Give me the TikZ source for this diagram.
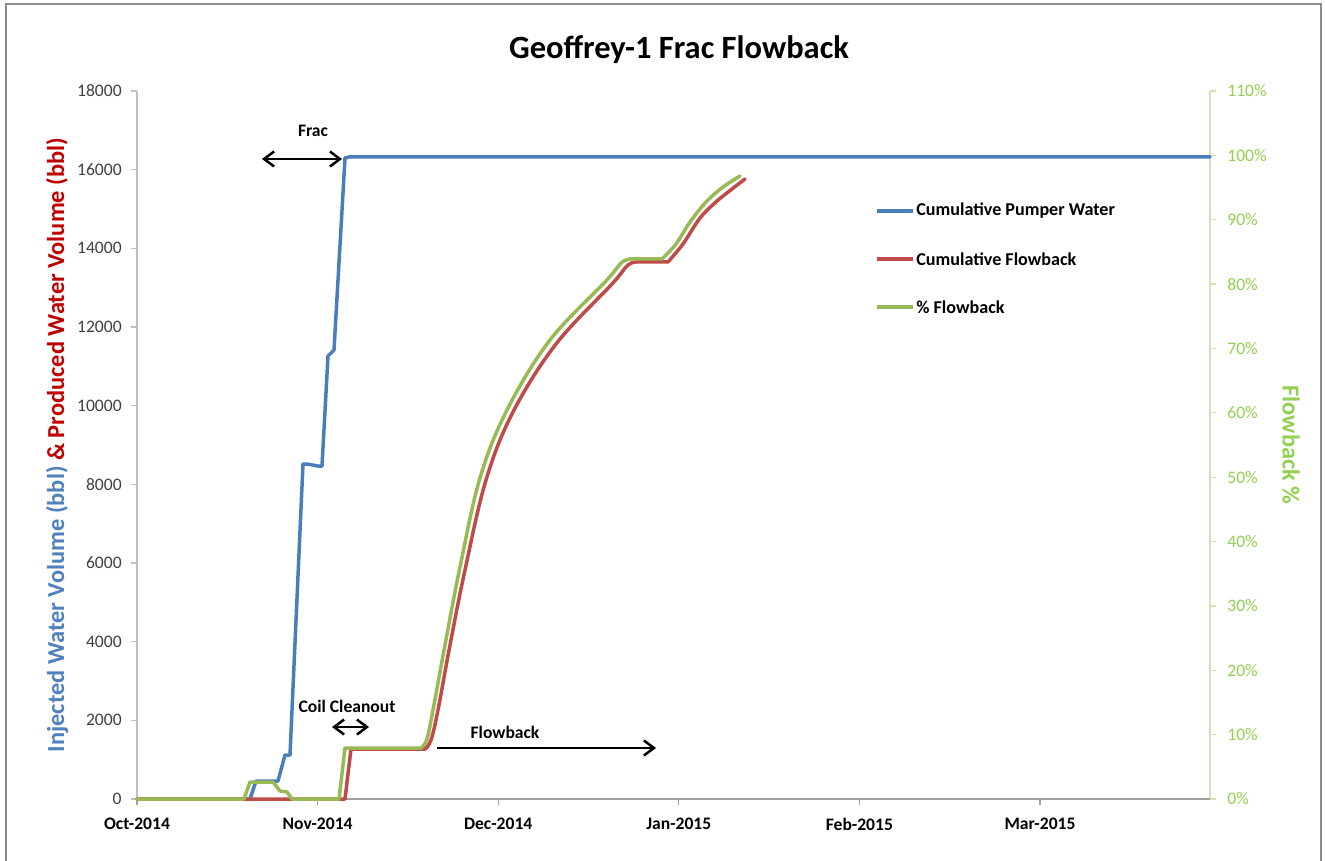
\documentclass[tikz,border=0pt]{standalone}
\usepackage{fontspec}
\setmainfont{Carlito}
\usetikzlibrary{arrows.meta}
\definecolor{cblue}{HTML}{4A7EBB}
\definecolor{cred}{HTML}{BE4B48}
\definecolor{cgreen}{HTML}{98B954}
\definecolor{lblue}{HTML}{4F81BD}
\definecolor{lred}{HTML}{C00000}
\definecolor{lgreen}{HTML}{92D050}
\definecolor{axleft}{HTML}{BFBFBF}
\definecolor{axbottom}{HTML}{A0A0A0}
\definecolor{axright}{HTML}{D3E1B5}
\definecolor{framegray}{HTML}{8C8C8C}
\definecolor{ticktext}{HTML}{404040}
\tikzset{
  series/.style={line width=0.07cm, line join=round, line cap=round},
  annot/.style={line width=0.05cm, black},
  annotarrow/.style={annot, -{Straight Barb[length=0.2cm, width=0.3cm]}},
  annotboth/.style={annot, {Straight Barb[length=0.2cm, width=0.3cm]}-{Straight Barb[length=0.2cm, width=0.3cm]}},
  lbl/.style={font=\bfseries\fontsize{10}{12}\selectfont, inner sep=0pt},
  legtext/.style={font=\bfseries\fontsize{10.3}{12}\selectfont, anchor=west, inner sep=0pt},
  ltick/.style={font=\fontsize{10}{12}\selectfont, text=ticktext, anchor=east, inner sep=0pt},
  rtick/.style={font=\fontsize{10}{12}\selectfont, text=lgreen, anchor=west, inner sep=0pt},
  xtick/.style={font=\bfseries\fontsize{10}{12}\selectfont, anchor=center, inner sep=0pt},
  axtitle/.style={font=\bfseries\fontsize{13.9}{16}\selectfont, inner sep=0pt}
}
\begin{document}
\begin{tikzpicture}[x=0.02cm, y=-0.02cm]
\useasboundingbox (0,0) rectangle (1325,861);
% outer frame
\draw[framegray, line width=0.04cm] (6,861) -- (6,4) -- (1321,4) -- (1321,861);
% title
\node[font=\bfseries\fontsize{18.5}{22}\selectfont, inner sep=0pt] (title) at (679,50) {Geoffrey-1 Frac Flowback};
% axes
\draw[axleft, line width=0.025cm] (137,91) -- (137,799);
\draw[axright, line width=0.025cm] (1210,91) -- (1210,799);
\foreach \k in {0,...,9} {
  \pgfmathsetmacro{\yy}{799-\k*78.6667}
  \pgfmathtruncatemacro{\vv}{\k*2}
  \draw[axleft, line width=0.025cm] (131,\yy) -- (137,\yy);
  \node[ltick] (lt\k) at (122,\yy) {\ifnum\vv=0 0\else\vv000\fi};
}
\foreach \p in {0,10,...,110} {
  \pgfmathsetmacro{\yy}{799-\p*6.43636}
  \draw[axright, line width=0.025cm] (1210,\yy) -- (1216,\yy);
  \node[rtick] (rt\p) at (1227,\yy) {\p\%};
}
\draw[axbottom, line width=0.025cm] (137,799) -- (1210,799);
\foreach \lab [count=\i from 0] in {Oct-2014,Nov-2014,Dec-2014,Jan-2015,Feb-2015,Mar-2015} {
  \pgfmathsetmacro{\xx}{137+\i*180.6}
  \draw[axbottom, line width=0.025cm] (\xx,799) -- (\xx,805);
  \node[xtick] (xt\i) at (\xx,824) {\lab};
}
% axis titles
\node[axtitle, rotate=90] (ltitle) at (57,445) {\textcolor{lblue}{Injected Water Volume (bbl)} \textcolor{lred}{\& Produced Water Volume (bbl)}};
\node[axtitle, rotate=-90, text=lgreen] (rtitle) at (1291,445) {Flowback \%};
% series: cumulative pumper water
\draw[series, cblue] (137,799) -- (250,799) -- (256,781) -- (278,781) -- (285,755) -- (290,755)
  -- (303,464) -- (307,464) -- (318,466) -- (322,466) -- (328,356) -- (334,350) -- (345,158) -- (349,157) -- (1210,157);
% cumulative flowback
\draw[series, cred] (137,799) -- (345,799) -- (351,749) -- (425,749)
  -- plot[smooth, tension=0.6] coordinates {(425,749) (431,740) (438,710) (450,645) (465,570) (486,480) (513,412) (556,344) (612,284) (628,265) (638,262)}
  -- (668,262)
  -- plot[smooth, tension=0.5] coordinates {(668,262) (683,244) (700,218) (717,201) (732,189) (745,179)};
% % flowback
\draw[series, cgreen] (137,799) -- (244,799) -- (250,782) -- (273,782) -- (280,791) -- (287,792) -- (292,799)
  -- (339,799) -- (345,748) -- (421,748)
  -- plot[smooth, tension=0.6] coordinates {(421,748) (427,739) (433,710) (445,645) (460,567) (480,478) (507,410) (550,340) (606,281) (621,263) (630,259)}
  -- (662,259)
  -- plot[smooth, tension=0.5] coordinates {(662,259) (676,244) (690,222) (706,202) (723,187) (740,176)};
% legend
\draw[series, cblue, line cap=butt] (877,211) -- (913,211);
\node[legtext] (leg1) at (916,211) {Cumulative Pumper Water};
\draw[series, cred, line cap=butt] (877,259) -- (913,259);
\node[legtext] (leg2) at (916,259) {Cumulative Flowback};
\draw[series, cgreen, line cap=butt] (877,307) -- (913,307);
\node[legtext] (leg3) at (916,307) {\% Flowback};
% annotations
\node[lbl] (frac) at (313,131) {Frac};
\coordinate (fracL) at (262,159);
\coordinate (fracR) at (342,159);
\draw[annotboth] (fracL) -- (fracR);
\node[lbl] (coil) at (347,706) {Coil Cleanout};
\coordinate (coilL) at (332,727);
\coordinate (coilR) at (369,727);
\draw[annotboth] (coilL) -- (coilR);
\node[lbl] (flow) at (505,732) {Flowback};
\coordinate (flowL) at (437,748);
\coordinate (flowR) at (656,748);
\draw[annotarrow] (flowL) -- (flowR);
\end{tikzpicture}
\end{document}
